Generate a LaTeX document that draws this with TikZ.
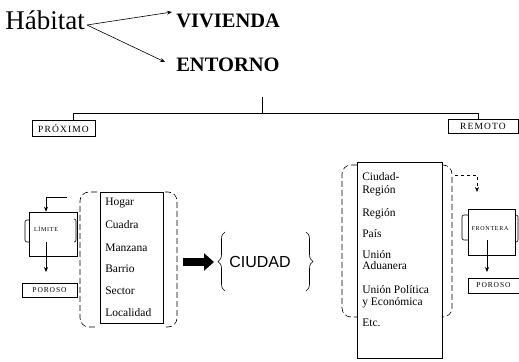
\documentclass[tikz,border=0pt]{standalone}
\usepackage{fontspec}
\setmainfont{Liberation Serif}
\setsansfont{Liberation Sans}
\newfontfamily\tagfont[LetterSpace=12]{Liberation Serif}
\usetikzlibrary{arrows.meta,decorations.pathreplacing}

\begin{document}
\begin{tikzpicture}[>={Stealth[length=5bp,width=4bp]},line width=0.6bp,
    item/.style={anchor=west,inner sep=0pt,font=\fontsize{11.5bp}{13bp}\selectfont},
    tag/.style={draw,rectangle,inner sep=0pt,font=\tagfont\fontsize{9.5bp}{10bp}\selectfont},
    paren/.style={dash pattern=on 6bp off 3bp,rounded corners=9bp},
    curly/.style={decorate,decoration={brace,amplitude=7bp}}]
  \useasboundingbox (0bp,0bp) rectangle (519bp,362bp);
  \node (Habitat) at (5bp,332bp) [anchor=base west,inner sep=0pt,font=\fontsize{27bp}{30bp}\selectfont] {Hábitat};
  \node (Vivienda) at (176bp,334bp) [anchor=base west,inner sep=0pt,font=\bfseries\fontsize{20.5bp}{24bp}\selectfont] {VIVIENDA};
  \node (Entorno) at (176bp,290bp) [anchor=base west,inner sep=0pt,font=\bfseries\fontsize{20.5bp}{24bp}\selectfont] {ENTORNO};
  \coordinate (Fork) at (87bp,337bp);
  \coordinate (TipV) at (172bp,350bp);
  \coordinate (TipE) at (165bp,300bp);
  \draw [->] (Fork) -- (TipV);
  \draw [->] (Fork) -- (TipE);
  % proximo / remoto
  \coordinate (Stem) at (262bp,265bp);
  \coordinate (BarL) at (73bp,249bp);
  \coordinate (BarR) at (478bp,249bp);
  \node (Proximo) at (63.5bp,234bp) [tag,minimum width=63bp,minimum height=16bp] {PRÓXIMO};
  \node (Remoto) at (483bp,236bp) [tag,minimum width=70bp,minimum height=14bp] {REMOTO};
  \draw (Stem) -- (Stem |- BarL);
  \draw (Proximo.north -| BarL) -- (BarL) -- (BarR) -- (Remoto.north -| BarR);
  % left side
  \node (LimBox) at (53bp,128bp) [draw,rectangle,minimum width=48bp,minimum height=44bp] {};
  \node (Limite) at (46bp,133bp) [inner sep=1bp,font=\tagfont\fontsize{6bp}{7bp}\selectfont] {LÍMITE};
  \coordinate (LimIn) at (67bp,165bp);
  \coordinate (LimOut) at (46bp,90bp);
  \draw [->] (LimIn) -| (Limite |- LimBox.north);
  \draw [->,shorten <=9bp] (Limite.south) -- (LimOut);
  \draw [rounded corners=2bp] (29bp,142bp) -- (25bp,142bp) -- (25bp,120bp) -- (29bp,120bp);
  \draw [rounded corners=2bp] (74bp,143bp) -- (76bp,143bp) -- (76bp,120bp) -- (74bp,120bp);
  \node (Poroso1) at (49.5bp,72bp) [tag,minimum width=55bp,minimum height=14bp,font=\tagfont\fontsize{7.5bp}{8bp}\selectfont] {POROSO};
  \draw [paren] (97bp,170bp) -- (80bp,170bp) -- (80bp,35bp) -- (97bp,35bp);
  \draw [paren] (165bp,170bp) -- (177bp,170bp) -- (177bp,35bp) -- (165bp,35bp);
  \node (Lista) at (131.5bp,104.5bp) [draw,rectangle,minimum width=63bp,minimum height=131bp] {};
  \node (Hogar) at (105bp,159bp) [item] {Hogar};
  \node (Cuadra) at (105bp,137bp) [item] {Cuadra};
  \node (Manzana) at (105bp,114bp) [item] {Manzana};
  \node (Barrio) at (105bp,93bp) [item] {Barrio};
  \node (Sector) at (105bp,71bp) [item] {Sector};
  \node (Localidad) at (105bp,49bp) [item] {Localidad};
  % ciudad
  \coordinate (Flecha) at (183bp,100bp);
  \coordinate (FlechaFin) at (214bp,100bp);
  \node (Ciudad) at (260bp,100bp) [font=\sffamily\fontsize{16bp}{18bp}\selectfont] {CIUDAD};
  \coordinate (LBrA) at (225bp,71bp);
  \coordinate (LBrB) at (225bp,130bp);
  \coordinate (RBrA) at (306bp,130bp);
  \coordinate (RBrB) at (306bp,71bp);
  \draw [curly] (LBrA) -- (LBrB);
  \draw [curly] (RBrA) -- (RBrB);
  \draw [line width=8bp,-{Triangle[length=10bp,width=17bp]}] (Flecha) -- (FlechaFin);
  % right side
  \draw [paren] (357bp,197bp) -- (342bp,197bp) -- (342bp,45bp) -- (357bp,45bp);
  \draw [paren] (442bp,197bp) -- (452bp,197bp) -- (452bp,45bp) -- (442bp,45bp);
  \node (Lista2) at (399.5bp,102bp) [draw,rectangle,minimum width=85bp,minimum height=196bp] {};
  \node (Ciudad-) at (362bp,185bp) [item] {Ciudad-};
  \node (Region1) at (362bp,171bp) [item] {Región};
  \node (Region2) at (362bp,148bp) [item] {Región};
  \node (Pais) at (362bp,128bp) [item] {País};
  \node (Union1) at (362bp,107bp) [item] {Unión};
  \node (Aduanera) at (362bp,96bp) [item] {Aduanera};
  \node (Union2) at (362bp,72bp) [item] {Unión Política};
  \node (Economica) at (362bp,59bp) [item] {y Económica};
  \node (Etc) at (362bp,39bp) [item] {Etc.};
  \coordinate (RemA) at (455bp,187bp);
  \coordinate (RemB) at (477bp,170bp);
  \draw [dashed,->] (RemA) -| (RemB);
  \node (FroBox) at (491.5bp,130bp) [draw,rectangle,minimum width=47bp,minimum height=46bp] {};
  \node (Frontera) at (490bp,133bp) [inner sep=1bp,font=\tagfont\fontsize{6bp}{7bp}\selectfont] {FRONTERA};
  \coordinate (FroOut) at (487bp,90bp);
  \draw [->,shorten <=8bp] (Frontera.south -| FroOut) -- (FroOut);
  \draw [rounded corners=2bp] (468bp,147bp) -- (462bp,147bp) -- (462bp,122bp) -- (468bp,122bp);
  \draw [rounded corners=2bp] (515bp,147bp) -- (518bp,147bp) -- (518bp,120bp) -- (515bp,120bp);
  \node (Poroso2) at (493.5bp,76.5bp) [tag,minimum width=51bp,minimum height=15bp,font=\tagfont\fontsize{7.5bp}{8bp}\selectfont] {POROSO};
\end{tikzpicture}
\end{document}
